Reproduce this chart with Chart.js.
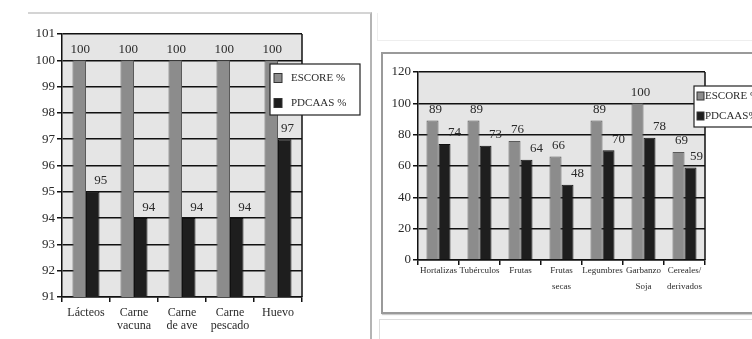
<!DOCTYPE html>
<html lang="es">
<head>
<meta charset="utf-8">
<script src="https://cdn.jsdelivr.net/npm/chart.js@4/dist/chart.umd.min.js"></script>
<style>
  html, body { margin: 0; padding: 0; background: #fff; width: 752px; height: 339px; overflow: hidden; }
  .frame { position: absolute; box-sizing: border-box; }
  #leftFrame { left: 28px; top: 12px; width: 344px; height: 340px; border-top: 2px solid #d4d4d4; border-right: 2px solid #b4b4b4; }
  #backFrame { left: 377px; top: 13px; width: 400px; height: 28px; border-left: 1px solid #eee; border-bottom: 1px solid #eee; }
  #rightFrame { left: 381px; top: 52px; width: 420px; height: 262px; border: 2px solid #9a9a9a; box-shadow: 1px 1px 1px #ccc; }
  #lowerFrame { left: 379px; top: 319px; width: 420px; height: 40px; border-left: 1px solid #ddd; border-top: 1px solid #ddd; }
  canvas { position: absolute; }
  #leftChart { left: 28px; top: 13px; }
  #rightChart { left: 382px; top: 53px; }
</style>
</head>
<body>
<div class="frame" id="backFrame"></div>
<div class="frame" id="leftFrame"></div>
<div class="frame" id="rightFrame"></div>
<div class="frame" id="lowerFrame"></div>
<canvas id="leftChart" width="340" height="326"></canvas>
<canvas id="rightChart" width="400" height="259"></canvas>
<script>
// Protein quality by food group: amino-acid score vs PDCAAS
const animalCategories = [["Lácteos"], ["Carne", "vacuna"], ["Carne", "de ave"], ["Carne", "pescado"], ["Huevo"]];
const animalEscore = [100, 100, 100, 100, 100];
const animalPdcaas = [95, 94, 94, 94, 97];

const plantCategories = ["Hortalizas", "Tubérculos", "Frutas", ["Frutas", "secas"], "Legumbres", ["Garbanzo", "Soja"], ["Cereales/", "derivados"]];
const plantEscore = [89, 89, 76, 66, 89, 100, 69];
const plantPdcaas = [74, 73, 64, 48, 70, 78, 59];

const animalLegend = ["ESCORE %", "PDCAAS %"];
const plantLegend = ["ESCORE %", "PDCAAS%"];

const SERIF = "'Liberation Serif', 'DejaVu Serif', serif";
const GREY = "#8c8c8c";
const BLACK = "#1e1e1e";
const PLOT_BG = "#e5e5e5";
const INK = "#2a2a2a";

// grey plot area behind the grid, closed with a right-hand border
const plotBox = {
  id: "plotBox",
  beforeDraw(chart) {
    const { ctx, chartArea: a } = chart;
    ctx.save();
    ctx.fillStyle = PLOT_BG;
    ctx.fillRect(a.left, a.top, a.right - a.left, a.bottom - a.top);
    ctx.restore();
  },
  afterDraw(chart) {
    const { ctx, chartArea: a } = chart;
    ctx.save();
    ctx.strokeStyle = "#111";
    ctx.lineWidth = 1.5;
    ctx.beginPath();
    ctx.moveTo(a.right, a.top);
    ctx.lineTo(a.right, a.bottom);
    ctx.stroke();
    ctx.restore();
  }
};

// value labels above each bar
const valueLabels = {
  id: "valueLabels",
  afterDatasetsDraw(chart, args, o) {
    const { ctx, chartArea: a } = chart;
    ctx.save();
    ctx.font = o.size + "px " + SERIF;
    ctx.fillStyle = INK;
    ctx.textAlign = "center";
    ctx.textBaseline = "middle";
    chart.data.datasets.forEach((ds, di) => {
      const meta = chart.getDatasetMeta(di);
      meta.data.forEach((bar, i) => {
        const txt = String(ds.data[i]);
        const w = ctx.measureText(txt).width;
        let x = bar.x + o.dx[di];
        x = Math.min(x, a.right - w / 2 - o.edge);
        ctx.fillText(txt, x, bar.y - o.dy);
      });
    });
    ctx.restore();
  }
};

// boxed legend drawn over the plot
const boxLegend = {
  id: "boxLegend",
  afterDraw(chart, args, o) {
    const { ctx } = chart;
    ctx.save();
    ctx.fillStyle = "#fff";
    ctx.fillRect(o.x, o.y, o.w, o.h);
    ctx.strokeStyle = "#222";
    ctx.lineWidth = 1.2;
    ctx.strokeRect(o.x, o.y, o.w, o.h);
    ctx.font = o.size + "px " + SERIF;
    ctx.textBaseline = "middle";
    ctx.textAlign = "left";
    chart.data.datasets.forEach((ds, i) => {
      const cy = o.y + o.rows[i];
      ctx.fillStyle = ds.backgroundColor;
      ctx.fillRect(o.x + o.sx, cy - o.sq / 2, o.sq - 1, o.sq);
      ctx.strokeStyle = "#333";
      ctx.lineWidth = 1;
      ctx.strokeRect(o.x + o.sx, cy - o.sq / 2, o.sq - 1, o.sq);
      ctx.fillStyle = INK;
      ctx.fillText(ds.label, o.x + o.tx, cy);
    });
    ctx.restore();
  }
};

function buildChart(id, cfg) {
  return new Chart(document.getElementById(id), {
    type: "bar",
    data: {
      labels: cfg.labels,
      datasets: [
        { label: cfg.legend[0], data: cfg.escore, backgroundColor: GREY, borderColor: "#5a5a5a", borderWidth: 1,
          barPercentage: 1, categoryPercentage: cfg.catPct },
        { label: cfg.legend[1], data: cfg.pdcaas, backgroundColor: BLACK, borderColor: "#111", borderWidth: 1,
          barPercentage: 1, categoryPercentage: cfg.catPct }
      ]
    },
    options: {
      responsive: false,
      devicePixelRatio: 1,
      animation: false,
      layout: { padding: cfg.padding },
      plugins: {
        legend: { display: false },
        tooltip: { enabled: false },
        valueLabels: cfg.valueLabels,
        boxLegend: cfg.boxLegend
      },
      scales: {
        x: {
          grid: { display: true, offset: true, drawOnChartArea: false, drawTicks: true, tickLength: 5, color: "#111", lineWidth: 1.5 },
          border: { display: true, color: "#111", width: 1.5 },
          ticks: { font: { family: SERIF, size: cfg.xFont, lineHeight: cfg.xLine }, color: INK, padding: cfg.xPad, maxRotation: 0, autoSkip: false },
          afterFit: s => { s.height = cfg.xHeight; }
        },
        y: {
          min: cfg.min, max: cfg.max,
          ticks: { stepSize: cfg.step, font: { family: SERIF, size: 13 }, color: INK, padding: 2 },
          grid: { color: "#111", lineWidth: 1.5, tickLength: 5, drawTicks: true },
          border: { display: true, color: "#111", width: 1.5 },
          afterFit: s => { s.width = cfg.yWidth; }
        }
      }
    },
    plugins: [plotBox, valueLabels, boxLegend]
  });
}

buildChart("leftChart", {
  labels: animalCategories, escore: animalEscore, pdcaas: animalPdcaas, legend: animalLegend,
  catPct: 0.5625, min: 91, max: 101, step: 1,
  padding: { left: 0, right: 66, top: 21, bottom: 0 },
  yWidth: 34, xHeight: 42, xFont: 12, xLine: 1.08, xPad: 4,
  valueLabels: { size: 13, dx: [1, 8], dy: 11, edge: 8 },
  boxLegend: { x: 242, y: 51, w: 90, h: 51, size: 11, sx: 4, sq: 9, tx: 21, rows: [14, 39] }
});

buildChart("rightChart", {
  labels: plantCategories, escore: plantEscore, pdcaas: plantPdcaas, legend: plantLegend,
  catPct: 0.585, min: 0, max: 120, step: 20,
  padding: { left: 0, right: 77, top: 19, bottom: 0 },
  yWidth: 36, xHeight: 52, xFont: 9, xLine: 1.75, xPad: -2,
  valueLabels: { size: 13, dx: [3, 10], dy: 11, edge: 2 },
  boxLegend: { x: 312, y: 33, w: 90, h: 41, size: 11, sx: 3, sq: 8, tx: 11, rows: [10, 30] }
});
</script>
</body>
</html>
